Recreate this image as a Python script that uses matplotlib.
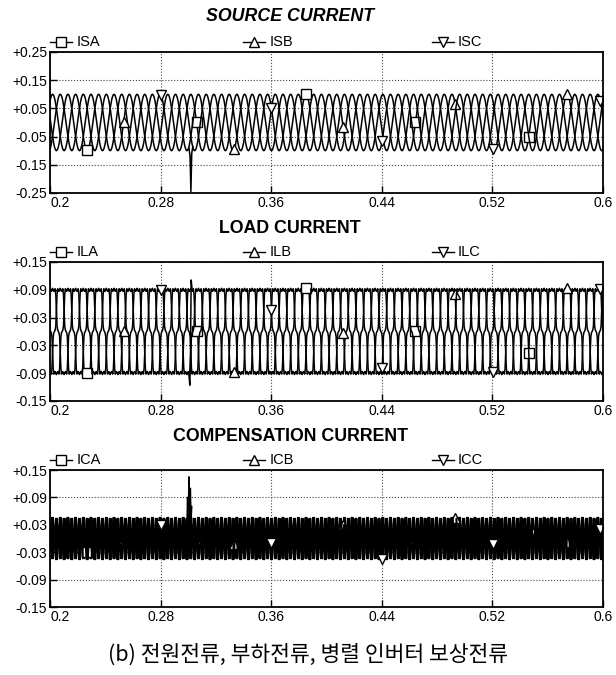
import matplotlib
matplotlib.use('Agg')
import matplotlib.pyplot as plt
import numpy as np

# time axis of the simulation (s)
t_start = 0.2
t_end = 0.6
line_freq = 60
samples_per_cycle = 36

# one half-cycle of each waveform, 10 deg steps
source_half = [0.0, 0.174, 0.342, 0.5, 0.643, 0.766, 0.866, 0.94, 0.985,
               1.0, 0.985, 0.94, 0.866, 0.766, 0.643, 0.5, 0.342, 0.174]
load_half = [0.0, 0.03, 0.12, 0.5, 0.86, 0.99, 0.95, 0.93, 0.97,
             1.0, 0.96, 0.93, 0.95, 0.99, 0.86, 0.5, 0.12, 0.03]
comp_half = [0.0, -0.03, -0.046, -0.01, 0.044, 0.02, -0.012, 0.012, 0.03,
             -0.008, 0.03, 0.012, -0.012, 0.02, 0.044, -0.01, -0.046, -0.03]
source_amp = 0.1
load_amp = 0.093

# phase a angle at t=0.2 and the b / c shifts (deg)
phase_a_deg = 50
phase_shift_deg = [0, -120, 120]

# disturbance around t=0.30
source_spike_t = [0.3005, 0.3013, 0.3019, 0.3025, 0.3033]
source_spike_v = [-0.09, -0.12, -0.245, -0.11, -0.085]
load_spike_t = [0.3004, 0.3011, 0.3016, 0.3021, 0.3028]
load_spike_v = [-0.09, -0.116, -0.05, 0.111, 0.09]
comp_spike_t = [0.2990, 0.2995, 0.3000, 0.3005, 0.3010, 0.3015, 0.3020, 0.3025]
comp_spike_v = [0.02, 0.09, 0.03, 0.135, 0.02, 0.11, 0.04, 0.07]

# marker positions (s) for phase a, b, c
mark_t = [[0.226, 0.306, 0.385, 0.464, 0.546],
          [0.253, 0.333, 0.412, 0.493, 0.574],
          [0.28, 0.36, 0.44, 0.52, 0.598]]
markers = ['s', '^', 'v']

titles = ['SOURCE CURRENT', 'LOAD CURRENT', 'COMPENSATION CURRENT']
labels = [['ISA', 'ISB', 'ISC'], ['ILA', 'ILB', 'ILC'], ['ICA', 'ICB', 'ICC']]
xticks = [0.2, 0.28, 0.36, 0.44, 0.52, 0.6]
xticklabels = ['0.2', '0.28', '0.36', '0.44', '0.52', '0.6']
yticks_src = [-0.25, -0.15, -0.05, 0.05, 0.15, 0.25]
ylabels_src = ['-0.25', '-0.15', '-0.05', '+0.05', '+0.15', '+0.25']
yticks_lc = [-0.15, -0.09, -0.03, 0.03, 0.09, 0.15]
ylabels_lc = ['-0.15', '-0.09', '-0.03', '+0.03', '+0.09', '+0.15']
caption = '(b) 전원전류, 부하전류, 병렬 인버터 보상전류'

plt.rcParams['font.family'] = ['Liberation Sans', 'DejaVu Sans']

n_cycles = int(round((t_end - t_start) * line_freq))
n = n_cycles * samples_per_cycle + 1
t = t_start + np.arange(n) / (line_freq * samples_per_cycle)


def phases(half, amp):
    cycle = np.array(half + [-v for v in half])
    out = []
    for sh in phase_shift_deg:
        k = (phase_a_deg + sh) // 10
        base = np.tile(np.roll(cycle, -k), n_cycles + 1)[:n]
        out.append(amp * base)
    return out


src = phases(source_half, source_amp)
load = phases(load_half, load_amp)
comp = phases(comp_half, 1.0)

fig = plt.figure(figsize=(6.16, 6.75), dpi=100)
boxes = [[0.0812, 0.7141, 0.8977, 0.2089],
         [0.0812, 0.4060, 0.8977, 0.2060],
         [0.0812, 0.1007, 0.8977, 0.2030]]
title_y = [0.975, 0.662, 0.353]
data = [src, load, comp]
spikes = [(source_spike_t, source_spike_v), (load_spike_t, load_spike_v),
          (comp_spike_t, comp_spike_v)]
ytk = [(yticks_src, ylabels_src), (yticks_lc, ylabels_lc), (yticks_lc, ylabels_lc)]

for p in range(3):
    ax = fig.add_axes(boxes[p])
    for i in range(3):
        idx = [min(int(np.searchsorted(t, m)), n - 1) for m in mark_t[i]]
        ax.plot(t, data[p][i], color='black', lw=1.1, marker=markers[i],
                markevery=idx, ms=6.5, mfc='white', mec='black', mew=1.0)
    ax.plot(spikes[p][0], spikes[p][1], color='black', lw=1.1)

    yt, yl = ytk[p]
    ax.set_xlim(t_start, t_end)
    ax.set_ylim(yt[0], yt[-1])
    ax.set_xticks(xticks)
    ax.set_xticklabels(xticklabels)
    ax.set_yticks(yt)
    ax.set_yticklabels(yl)
    ax.tick_params(direction='in', length=5, width=1, labelsize=10, pad=2)
    ax.get_xticklabels()[0].set_horizontalalignment('left')
    ax.grid(True, ls=':', color='#444444', lw=0.8)
    for s in ax.spines.values():
        s.set_linewidth(1.3)

    style = 'italic' if p == 0 else 'normal'
    fig.text(0.471, title_y[p], titles[p], ha='center', va='center',
             fontsize=12.8, fontweight='bold', fontstyle=style)

    for x0, mk, lab in zip([0.0, 0.349, 0.69], markers, labels[p]):
        ax.plot([x0, x0 + 0.04], [1.07, 1.07], transform=ax.transAxes,
                color='black', lw=1, clip_on=False)
        ax.plot([x0 + 0.02], [1.07], marker=mk, ms=6.5, mfc='white',
                mec='black', mew=1.0, transform=ax.transAxes, clip_on=False)
        ax.text(x0 + 0.048, 1.07, lab, transform=ax.transAxes, va='center',
                fontsize=10.5)

fig.text(0.5, 0.03, caption, ha='center', va='center', fontsize=15.5,
         family=['Noto Sans CJK KR', 'DejaVu Sans'])

fig.savefig('out.png', dpi=100)
